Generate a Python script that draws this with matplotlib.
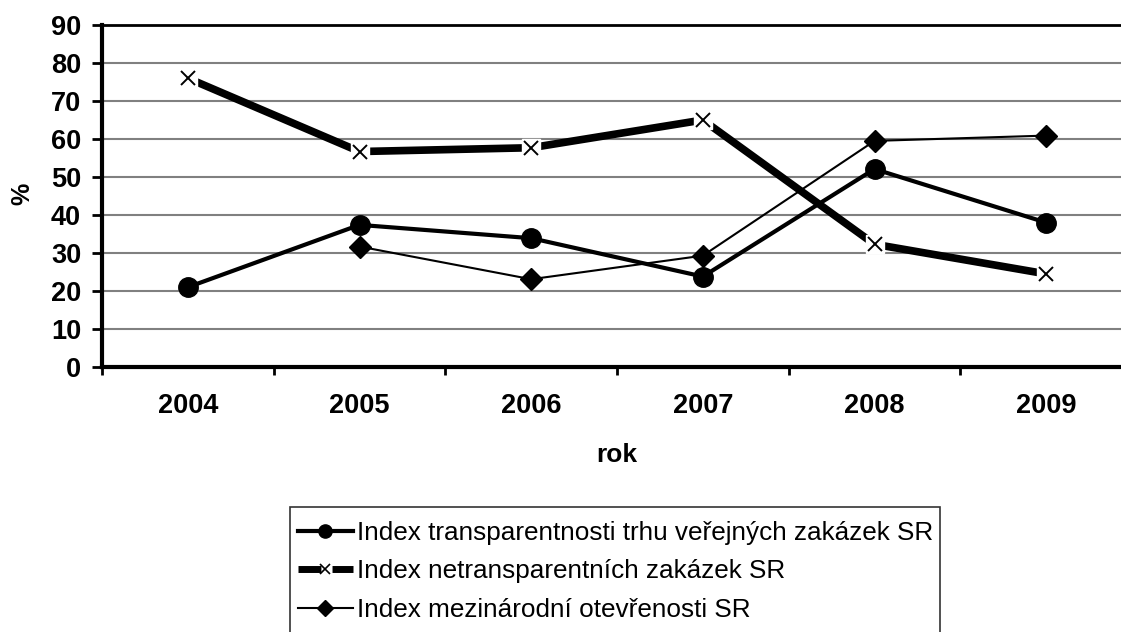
import matplotlib
matplotlib.use("Agg")
import matplotlib.pyplot as plt
from matplotlib.lines import Line2D
from matplotlib.patches import Rectangle

plt.rcParams['font.family'] = ['Liberation Sans', 'DejaVu Sans']

years = ["2004", "2005", "2006", "2007", "2008", "2009"]
transparentnost = [21.0, 37.4, 33.9, 23.8, 52.1, 38.0]
netransparentni = [76.0, 56.7, 57.7, 65.0, 32.3, 24.5]
otevrenost = [None, 31.7, 23.1, 29.3, 59.5, 60.9]

labels = ["Index transparentnosti trhu veřejných zakázek SR",
          "Index netransparentních zakázek SR",
          "Index mezinárodní otevřenosti SR"]

W, H = 1121, 632
fig = plt.figure(figsize=(W / 100, H / 100), dpi=100)
# plot area runs past the right edge of the picture, like the original
ax = fig.add_axes([102 / W, (H - 367) / H, (1132 - 102) / W, (367 - 25) / H])

x = list(range(len(years)))

# series 1 - circles
ax.plot(x, transparentnost, color='black', lw=3, marker='o', ms=14, zorder=3)

# series 2 - thick line, x markers on white box
ax.plot(x, netransparentni, color='black', lw=5.5, zorder=4)
ax.plot(x, netransparentni, ls='none', marker='s', ms=13, mfc='white', mec='white', zorder=5)
ax.plot(x, netransparentni, ls='none', marker='x', ms=10, mew=1.4, color='black', zorder=6)

# series 3 - thin line, diamonds
x3 = [i for i, v in zip(x, otevrenost) if v is not None]
y3 = [v for v in otevrenost if v is not None]
ax.plot(x3, y3, color='black', lw=1.5, marker='D', ms=11, zorder=3)

ax.set_xlim(-0.5, 5.5)
ax.set_ylim(0, 90)
ax.set_yticks(range(0, 91, 10))
ax.set_xticks(x)
ax.set_xticklabels(years)
ax.set_xticks([i - 0.5 for i in range(len(years) + 1)], minor=True)
ax.tick_params(axis='x', which='major', length=0, pad=19, labelsize=19.5)
ax.tick_params(axis='x', which='minor', length=6, width=2, direction='out')
ax.tick_params(axis='y', length=7, width=2, direction='out', pad=8, labelsize=19.5)
for lab in ax.get_xticklabels() + ax.get_yticklabels():
    lab.set_fontweight('bold')

ax.yaxis.grid(True, color='#808080', lw=1.5)
ax.set_axisbelow(True)
ax.spines['left'].set_linewidth(3)
ax.spines['bottom'].set_linewidth(3)
ax.spines['top'].set_linewidth(2)
ax.spines['right'].set_visible(False)

fig.text(617 / W, 1 - 455 / H, "rok", ha='center', va='center', fontsize=19, fontweight='bold')
fig.text(22 / W, 1 - 194 / H, "%", ha='center', va='center', rotation=90, fontsize=18, fontweight='bold')

# legend box, cut by the bottom edge like in the original
fig.patches.append(Rectangle((290 / W, -20 / H), (940 - 290) / W, (H - 507 + 20) / H,
                             transform=fig.transFigure, fill=False, ec='#333333', lw=1.2))

h1 = Line2D([], [], color='black', lw=3, marker='o', ms=9.5)
# dashed so the x sits in a gap of the thick line
h2 = Line2D([], [], color='black', lw=5, dashes=(3.3, 1.6), dash_capstyle='butt',
            marker='x', ms=7, mew=1.2)
h3 = Line2D([], [], color='black', lw=1.5, marker='D', ms=8)
leg = fig.legend([h1, h2, h3], labels, loc='upper left', bbox_to_anchor=(298 / W, 1 - 521 / H),
                 fontsize=18.8, frameon=False, handlelength=2.1, handletextpad=0.15,
                 borderpad=0, labelspacing=0.55, borderaxespad=0)

fig.savefig("out.png", dpi=100)
